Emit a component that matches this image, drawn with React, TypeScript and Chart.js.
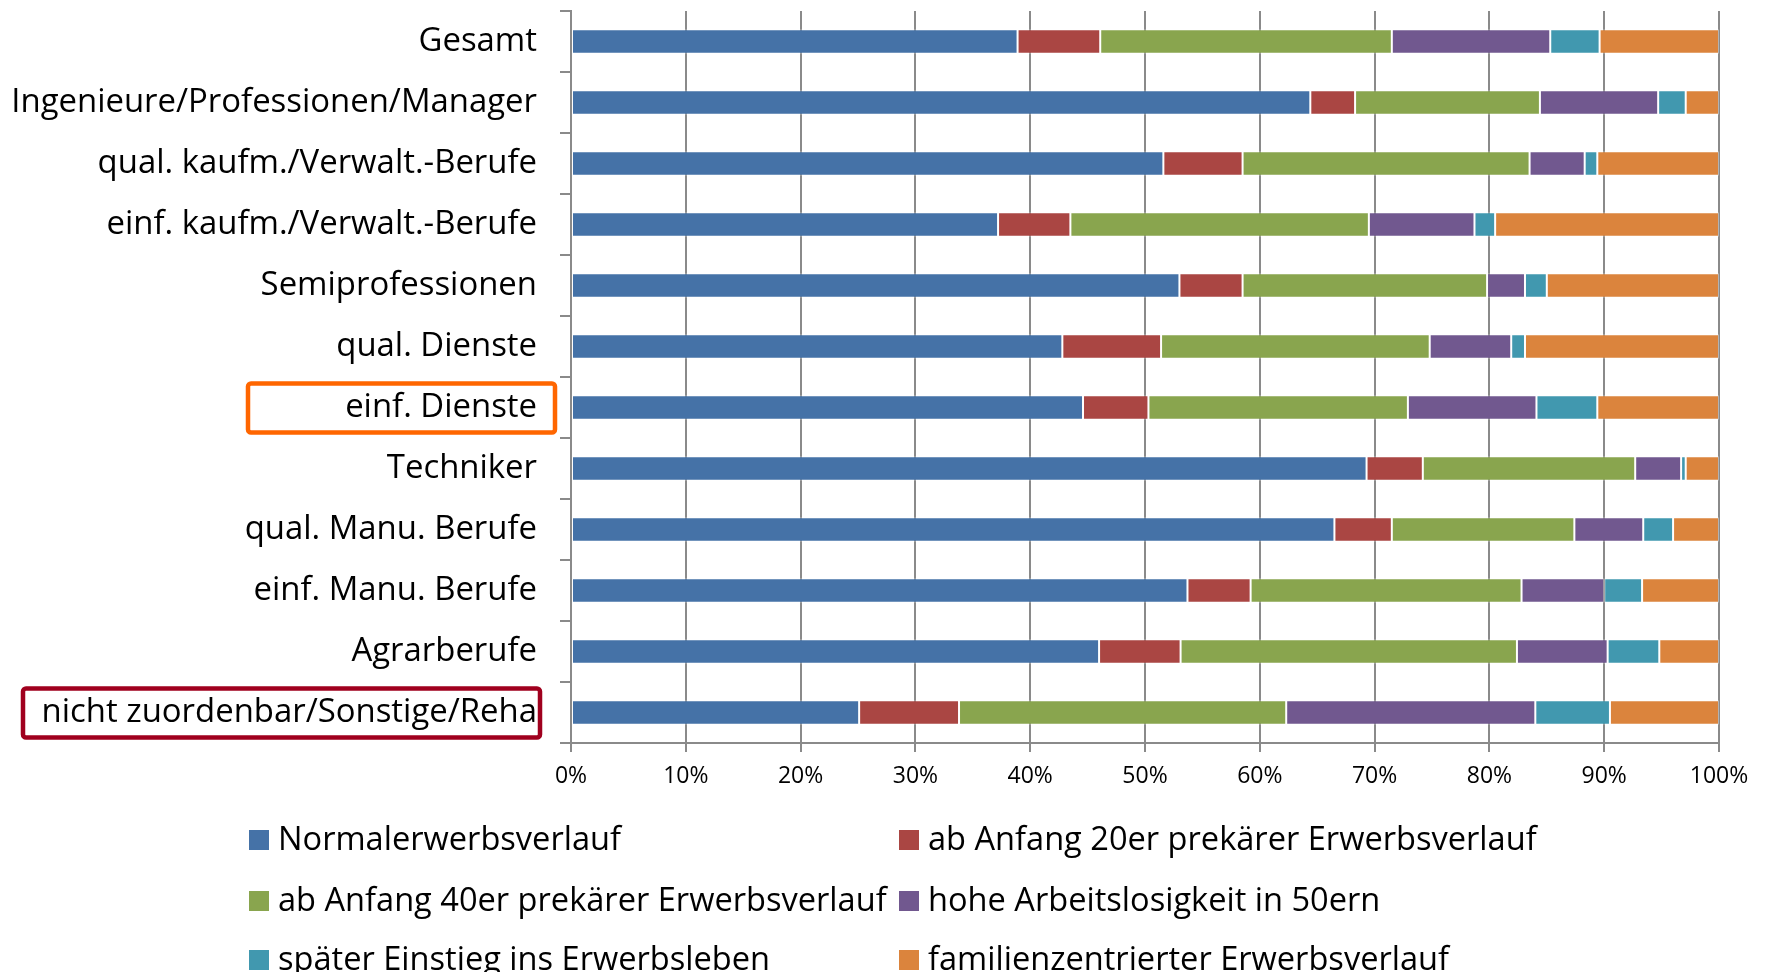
import React, { useEffect, useRef } from "react";
import { Chart, registerables } from "chart.js";

Chart.register(...registerables);

const categories = [
  "Gesamt",
  "Ingenieure/Professionen/Manager",
  "qual. kaufm./Verwalt.-Berufe",
  "einf. kaufm./Verwalt.-Berufe",
  "Semiprofessionen",
  "qual. Dienste",
  "einf. Dienste",
  "Techniker",
  "qual. Manu. Berufe",
  "einf. Manu. Berufe",
  "Agrarberufe",
  "nicht zuordenbar/Sonstige/Reha",
];

const seriesLabels = [
  "Normalerwerbsverlauf",
  "ab Anfang 20er prekärer Erwerbsverlauf",
  "ab Anfang 40er prekärer Erwerbsverlauf",
  "hohe Arbeitslosigkeit in 50ern",
  "später Einstieg ins Erwerbsleben",
  "familienzentrierter Erwerbsverlauf",
];

const seriesColors = ["#4572A7", "#AA4643", "#89A54E", "#71588F", "#4198AF", "#DB843D"];

const normal = [38.9, 64.4, 51.6, 37.2, 53.0, 42.8, 44.6, 69.3, 66.5, 53.7, 46.0, 25.1];
const prekaer20 = [7.2, 3.9, 6.9, 6.3, 5.5, 8.6, 5.7, 4.9, 5.0, 5.5, 7.1, 8.7];
const prekaer40 = [25.4, 16.1, 25.0, 26.0, 21.3, 23.4, 22.6, 18.5, 15.9, 23.6, 29.3, 28.5];
const arbeitslos50 = [13.8, 10.3, 4.8, 9.2, 3.3, 7.1, 11.2, 4.0, 6.0, 7.2, 7.9, 21.7];
const spaeterEinstieg = [4.3, 2.4, 1.1, 1.8, 1.9, 1.2, 5.3, 0.4, 2.6, 3.3, 4.5, 6.5];
const familie = [10.4, 2.9, 10.6, 19.5, 15.0, 16.9, 10.6, 2.9, 4.0, 6.7, 5.2, 9.5];

const seriesValues = [normal, prekaer20, prekaer40, arbeitslos50, spaeterEinstieg, familie];

const xTicks = [0, 10, 20, 30, 40, 50, 60, 70, 80, 90, 100];

const highlighted = [
  { index: 6, color: "#FF6600", left: 240, gap: 16 },
  { index: 11, color: "#A0001E", left: 15, gap: 31 },
];

const FONT = "'Open Sans'";
const GRID = "#8a8a8a";

const overlayPlugin = {
  id: "overlay",
  afterDraw(chart: any) {
    const ctx = chart.ctx;
    const y = chart.scales.y;
    const area = chart.chartArea;
    ctx.save();
    // highlight boxes
    highlighted.forEach((h) => {
      const cy = y.getPixelForValue(h.index);
      const right = area.left - h.gap;
      const top = cy - 24;
      const hgt = 49;
      ctx.lineWidth = 4.5;
      ctx.strokeStyle = h.color;
      ctx.beginPath();
      if (ctx.roundRect) ctx.roundRect(h.left, top, right - h.left, hgt, 3);
      else ctx.rect(h.left, top, right - h.left, hgt);
      ctx.stroke();
    });
    // legend
    const cols = [241, 891];
    const rows = [832, 893, 952];
    ctx.font = `32.6px ${FONT}`;
    ctx.textBaseline = "middle";
    ctx.textAlign = "left";
    seriesLabels.forEach((lab, i) => {
      const cx = cols[i % 2];
      const cy = rows[Math.floor(i / 2)];
      ctx.fillStyle = seriesColors[i];
      ctx.fillRect(cx, cy - 10, 20, 20);
      ctx.fillStyle = "#000";
      ctx.fillText(lab, cx + 29, cy + 1);
    });
    ctx.restore();
  },
};

export default function App() {
  const ref = useRef<HTMLCanvasElement | null>(null);
  useEffect(() => {
    if (!ref.current) return;
    const chart = new Chart(ref.current, {
      type: "bar",
      data: {
        labels: categories,
        datasets: seriesValues.map((vals, i) => ({
          label: seriesLabels[i],
          data: vals,
          backgroundColor: seriesColors[i],
          borderColor: "rgba(255,255,255,0.35)",
          borderWidth: 1,
          borderSkipped: false,
          categoryPercentage: 1,
          barPercentage: 0.4,
        })),
      },
      options: {
        indexAxis: "y",
        animation: false,
        responsive: true,
        maintainAspectRatio: false,
        layout: { padding: { top: 3, right: 39, bottom: 177, left: 0 } },
        plugins: {
          legend: { display: false },
          tooltip: { enabled: false },
        },
        scales: {
          x: {
            stacked: true,
            min: 0,
            max: 100,
            afterBuildTicks: (s: any) => {
              s.ticks = xTicks.map((v) => ({ value: v }));
            },
            afterFit: (s: any) => {
              s.height = 60;
              s.paddingLeft = 0;
              s.paddingRight = 0;
            },
            ticks: {
              callback: (v: any) => v + "%",
              color: "#000",
              font: { family: FONT, size: 23 },
              padding: 11,
              maxRotation: 0,
            },
            grid: { color: GRID, lineWidth: 2, tickLength: 9 },
            border: { color: GRID, width: 2 },
          },
          y: {
            stacked: true,
            afterFit: (s: any) => {
              s.width = 563;
              s.paddingTop = 0;
              s.paddingBottom = 0;
            },
            ticks: {
              color: "#000",
              font: { family: FONT, size: 32.9 },
              padding: 23,
              autoSkip: false,
            },
            grid: {
              drawOnChartArea: false,
              color: GRID,
              lineWidth: 2,
              tickLength: 11,
              offset: true,
            },
            border: { color: GRID, width: 2 },
          },
        },
      },
      plugins: [overlayPlugin],
    });
    return () => chart.destroy();
  }, []);
  return (
    <div style={{ width: 1750, height: 972, marginBottom: -8, position: "relative" }}>
      <canvas ref={ref} />
    </div>
  );
}
